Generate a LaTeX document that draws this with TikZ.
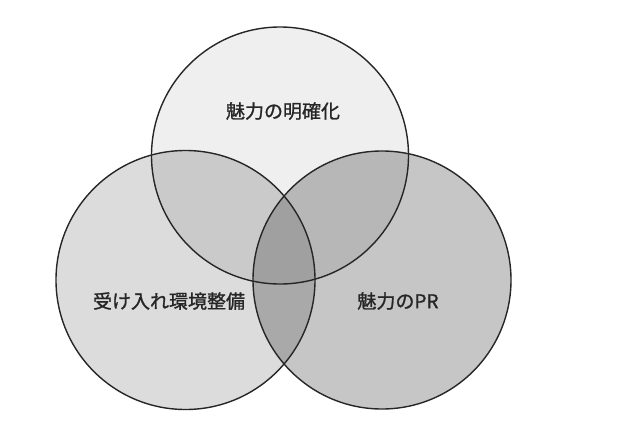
\documentclass[tikz,border=0pt]{standalone}
\usepackage{fontspec}
\newfontfamily\jp[FakeBold=1.2]{Noto Sans CJK JP}
\definecolor{cT}{HTML}{EFEFEF}
\definecolor{cL}{HTML}{DCDCDC}
\definecolor{cR}{HTML}{C6C6C6}
\definecolor{cTL}{HTML}{CACACA}
\definecolor{cTR}{HTML}{B7B7B7}
\definecolor{cLR}{HTML}{A9A9A9}
\definecolor{cTLR}{HTML}{A0A0A0}
\tikzset{
  ring/.style={circle, draw=black!85, line width=1.4pt, inner sep=0pt},
  lbl/.style={font=\jp\fontsize{19pt}{21pt}\selectfont, text=black!85, inner sep=0pt}
}
\begin{document}
\begin{tikzpicture}[x=1pt,y=-1pt]
\useasboundingbox[fill=white] (0,0) rectangle (640,421);
\def\T{(280,155.5) circle[radius=128.5pt]}
\def\L{(185.5,280) circle[radius=129.5pt]}
\def\R{(382,280) circle[radius=129pt]}
% single regions
\fill[cT] \T;
\fill[cL] \L;
\fill[cR] \R;
% pair regions
\begin{scope}\clip \T; \fill[cTL] \L; \end{scope}
\begin{scope}\clip \T; \fill[cTR] \R; \end{scope}
\begin{scope}\clip \L; \fill[cLR] \R; \end{scope}
\begin{scope}\clip \T; \clip \L; \fill[cTLR] \R; \end{scope}
% outlines
\node[ring, minimum size=257pt] (top) at (280,155.5) {};
\node[ring, minimum size=259pt] (left) at (185.5,280) {};
\node[ring, minimum size=258pt] (right) at (382,280) {};
% labels
\node[lbl] (tlabel) at (283,111) {魅力の明確化};
\node[lbl] (llabel) at (169,301) {受け入れ環境整備};
\node[lbl] (rlabel) at (398,301) {魅力のPR};
\end{tikzpicture}
\end{document}
